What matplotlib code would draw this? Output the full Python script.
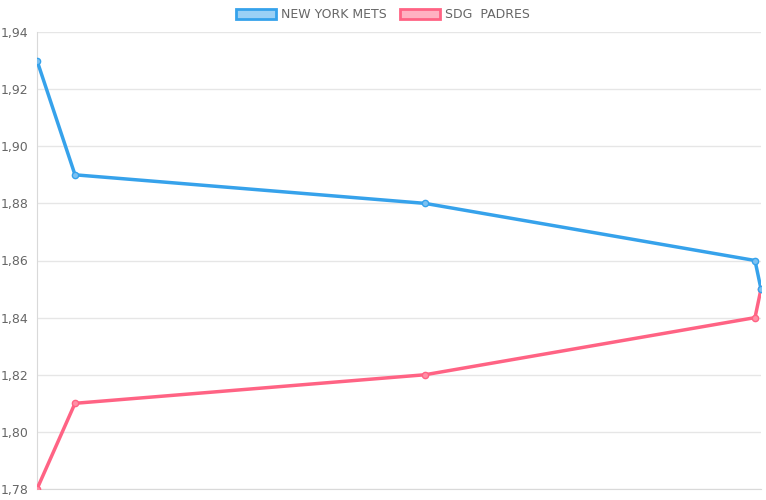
import matplotlib.pyplot as plt
from matplotlib.patches import Patch
from matplotlib.ticker import FuncFormatter

# x positions (time-like, no labels shown on the chart)
x_vals = [0, 38, 388, 718, 724]
mets = [1.93, 1.89, 1.88, 1.86, 1.85]
padres = [1.78, 1.81, 1.82, 1.84, 1.85]
y_ticks = [1.78, 1.80, 1.82, 1.84, 1.86, 1.88, 1.90, 1.92, 1.94]

blue = "#36a2eb"
red = "#ff6384"

fig = plt.figure(figsize=(7.66, 5.0), dpi=100)
ax = fig.add_axes([37 / 766, 1 - 489 / 500, 724 / 766, 457 / 500])

ax.plot(x_vals, padres, "-o", color=red, lw=2.5, ms=4.5,
        markerfacecolor="#ff8fa6", markeredgecolor=red, zorder=3)
ax.plot(x_vals, mets, "-o", color=blue, lw=2.5, ms=4.5,
        markerfacecolor="#7cc1f1", markeredgecolor=blue, zorder=3)

ax.set_xlim(x_vals[0], x_vals[-1])
ax.set_ylim(1.78, 1.94)
ax.set_yticks(y_ticks)
ax.yaxis.set_major_formatter(FuncFormatter(lambda v, p: f"{v:.2f}".replace(".", ",")))
ax.set_xticks([])
ax.grid(axis="y", color="#e6e6e6", lw=1)
ax.set_axisbelow(True)
for side in ["top", "right"]:
    ax.spines[side].set_visible(False)
ax.spines["left"].set_color("#d9d9d9")
ax.spines["bottom"].set_color("#d9d9d9")
ax.tick_params(axis="y", colors="#666666", labelsize=9, length=0, pad=6)

handles = [
    Patch(facecolor="#9ad0f5", edgecolor=blue, lw=2, label="NEW YORK METS"),
    Patch(facecolor="#ffb1c1", edgecolor=red, lw=2, label="SDG  PADRES"),
]
fig.legend(handles=handles, loc="center", bbox_to_anchor=(0.5, 1 - 15 / 500),
           ncol=2, frameon=False, fontsize=9, labelcolor="#666666",
           handlelength=3.2, handleheight=0.9, columnspacing=1.0, handletextpad=0.4)

fig.savefig("out.png", dpi=100)
